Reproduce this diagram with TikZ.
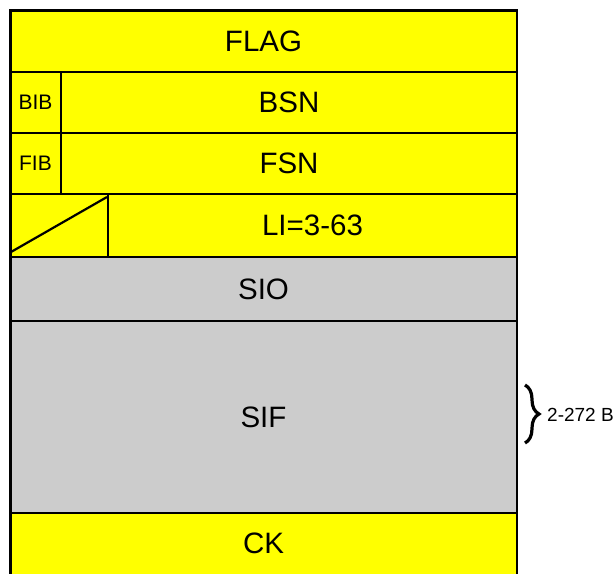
\documentclass[tikz,border=0pt]{standalone}
\usepackage{fontspec}
\setmainfont{Liberation Sans}
\usetikzlibrary{decorations.pathreplacing}
\definecolor{fieldyellow}{HTML}{FFFF00}
\definecolor{fieldgray}{HTML}{CCCCCC}
\tikzset{
  cellbox/.style={draw=black, line width=2.8pt},
  bigtext/.style={inner sep=0pt, font=\fontsize{29.5}{34}\selectfont},
  smalltext/.style={inner sep=0pt, font=\fontsize{21}{25}\selectfont},
  notetext/.style={inner sep=0pt, anchor=west, font=\fontsize{19}{23}\selectfont},
}
\begin{document}
\begin{tikzpicture}[x=1pt, y=-1pt]
\useasboundingbox (0,0) rectangle (613,573);
\clip (0,0) rectangle (613,573);
% fills
\fill[fieldyellow] (10.5,10.5) rectangle (517,257);
\fill[fieldgray] (10.5,257) rectangle (517,513);
\fill[fieldyellow] (10.5,513) rectangle (517,600);
% outer frame and row separators
\draw[cellbox] (10.5,600) -- (10.5,10.5) -- (517,10.5) -- (517,600);
\draw[cellbox] (10.5,72) -- (517,72);
\draw[cellbox] (10.5,133) -- (517,133);
\draw[cellbox] (10.5,194) -- (517,194);
\draw[cellbox] (10.5,257) -- (517,257);
\draw[cellbox] (10.5,321) -- (517,321);
\draw[cellbox] (10.5,513) -- (517,513);
% vertical separators
\draw[cellbox] (61,72) -- (61,194);
\draw[cellbox] (108,194) -- (108,257);
% diagonal in spare cell
\coordinate (diagA) at (11,252);
\coordinate (diagB) at (107,197);
\draw[line width=2.2pt] (diagA) -- (diagB);
% labels
\node[bigtext] (flag) at (263.5,41.5) {FLAG};
\node[smalltext] (bib) at (35.5,102.5) {BIB};
\node[bigtext] (bsn) at (289,102.5) {BSN};
\node[smalltext] (fib) at (35.5,163.5) {FIB};
\node[bigtext] (fsn) at (289,163.5) {FSN};
\node[bigtext] (li) at (312.5,225) {LI=3-63};
\node[bigtext] (sio) at (263.5,289) {SIO};
\node[bigtext] (sif) at (263.5,417) {SIF};
\node[bigtext] (ck) at (263.5,543) {CK};
% brace
\coordinate (braceTop) at (525,385);
\coordinate (braceBot) at (525,443);
\draw[line width=3.2pt, decorate, decoration={brace, amplitude=14pt}] (braceTop) -- (braceBot);
\node[notetext] (size) at (547,415) {2-272 B};
\end{tikzpicture}
\end{document}
